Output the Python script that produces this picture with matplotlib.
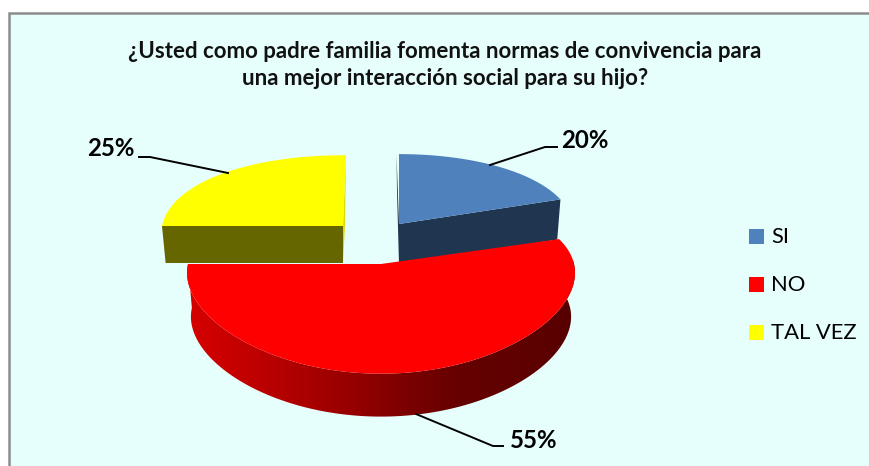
# -*- coding: utf-8 -*-
import numpy as np
import matplotlib
matplotlib.use('Agg')
import matplotlib.pyplot as plt
from matplotlib.colors import LinearSegmentedColormap
from matplotlib.patches import Polygon, Rectangle

plt.rcParams['font.family'] = ['Lato', 'DejaVu Sans']

# data
categories = ['SI', 'NO', 'TAL VEZ']
percents = [20, 55, 25]
labels = ['20%', '55%', '25%']
title = ('¿Usted como padre familia fomenta normas de convivencia para\n'
         'una mejor interacción social para su hijo?')

# styles
top_colors = ['#4F81BD', '#FF0000', '#FFFF00']
cut_colors = ['#1F3550', '#8B0000', '#666600']
legend_colors = ['#4F81BD', '#FF0000', '#FFFF00']
red_side = ['#D60000', '#C40000', '#AE0000', '#960000', '#7A0000', '#640000', '#600000', '#560000']

# slice placement in picture pixels: apex x, apex y, half width, depth scale, thickness
place = [(399, 224, 175, 85, 40),
         (381, 264, 193, 86, 44),
         (343, 226, 181, 86, 37)]
ky = 0.216
kx = 0.1

fig = plt.figure(figsize=(8.7, 4.66), dpi=100, facecolor='white')
ax = fig.add_axes([0, 0, 1, 1])
ax.set_xlim(0, 870)
ax.set_ylim(466, 0)
ax.axis('off')


def rim(theta, p, lower=False):
    # theta in degrees, clockwise from the top of the pie
    cx, cy, a, b, t = p
    if lower:
        cy = cy + t
        a = a * 0.98
        b = b * 0.99
    u = np.sin(np.radians(theta))
    v = -np.cos(np.radians(theta))
    return cx + a * u / (1 - kx * v), cy + b * v / (1 - ky * v)


def apex(p, lower=False):
    return (p[0], p[1] + p[4]) if lower else (p[0], p[1])


ax.add_patch(Rectangle((9, 13), 900, 500, facecolor='#E6FFFC', edgecolor='#8C8C8C', lw=1.8))

edges = np.cumsum([0] + percents) * 3.6

# blue slice: cut faces then top
p = place[0]
a_top = apex(p)
a_low = apex(p, True)
ax.add_patch(Polygon([a_top, rim(edges[1], p), rim(edges[1], p, True), a_low],
                     facecolor=cut_colors[0], edgecolor='none'))
x3, y3 = rim(edges[0], p)
ax.add_patch(Polygon([(x3 - 2.5, y3), a_top, a_low, (x3 - 2, y3 + 37)],
                     facecolor=cut_colors[0], edgecolor='none'))
th = np.linspace(edges[0], edges[1], 80)
xs, ys = rim(th, p)
ax.add_patch(Polygon(np.r_[[a_top], np.c_[xs, ys]], facecolor=top_colors[0], edgecolor='none'))

# yellow slice
p = place[2]
a_top = apex(p)
a_low = apex(p, True)
ax.add_patch(Polygon([a_top, rim(edges[2], p), rim(edges[2], p, True), a_low],
                     facecolor=cut_colors[2], edgecolor='none'))
x3, y3 = rim(edges[3], p)
ax.add_patch(Polygon([(x3 + 3, y3), a_top, a_low, (x3 + 2, y3 + 70)],
                     facecolor='#DCDC00', edgecolor='none'))
th = np.linspace(edges[2], edges[3], 80)
xs, ys = rim(th, p)
ax.add_patch(Polygon(np.r_[[a_top], np.c_[xs, ys], [(x3 + 3, y3)]],
                     facecolor=top_colors[2], edgecolor='none'))

# red slice: shaded rim through a clipped gradient, then top
p = place[1]
th = np.linspace(edges[1], edges[2], 200)
xs, ys = rim(th, p)
xb, yb = rim(th, p, True)
side = Polygon(np.r_[np.c_[xs, ys], np.c_[xb, yb][::-1]], facecolor='none', edgecolor='none',
               transform=ax.transData)
ax.add_patch(side)
cmap = LinearSegmentedColormap.from_list('redside', red_side)
im = ax.imshow(np.linspace(0, 1, 256)[None, :], cmap=cmap, aspect='auto',
               extent=(185, 577, 425, 260), interpolation='bilinear', zorder=2)
im.set_clip_path(side)
ax.set_xlim(0, 870)
ax.set_ylim(466, 0)
ax.add_patch(Polygon(np.r_[[apex(p)], np.c_[xs, ys]], facecolor=top_colors[1],
                     edgecolor='none', zorder=3))

# leader lines and labels
ax.plot([490, 545, 557], [165, 147, 147], color='black', lw=1.4, zorder=4)
ax.plot([416, 493, 503], [414, 446, 446], color='black', lw=1.4, zorder=4)
ax.plot([139, 150, 228], [157, 157, 173], color='black', lw=1.4, zorder=4)
label_xy = [(585, 141), (534, 441), (111, 149)]
for lab, (lx, ly) in zip(labels, label_xy):
    ax.text(lx, ly, lab, ha='center', va='center', fontsize=17.3, fontweight='bold', color='black', zorder=5)

ax.text(445, 65, title, ha='center', va='center', fontsize=16, fontweight='bold', color='#111111',
        linespacing=1.3)

# legend
legend_y = [236.5, 284.5, 332.5]
for name, col, ly in zip(categories, legend_colors, legend_y):
    ax.add_patch(Rectangle((749, ly - 7.5), 15, 15, facecolor=col, edgecolor='none'))
    ax.text(771, ly + 0.5, name, ha='left', va='center', fontsize=15.8, color='black')

fig.savefig('out.png', dpi=100, facecolor='white')
